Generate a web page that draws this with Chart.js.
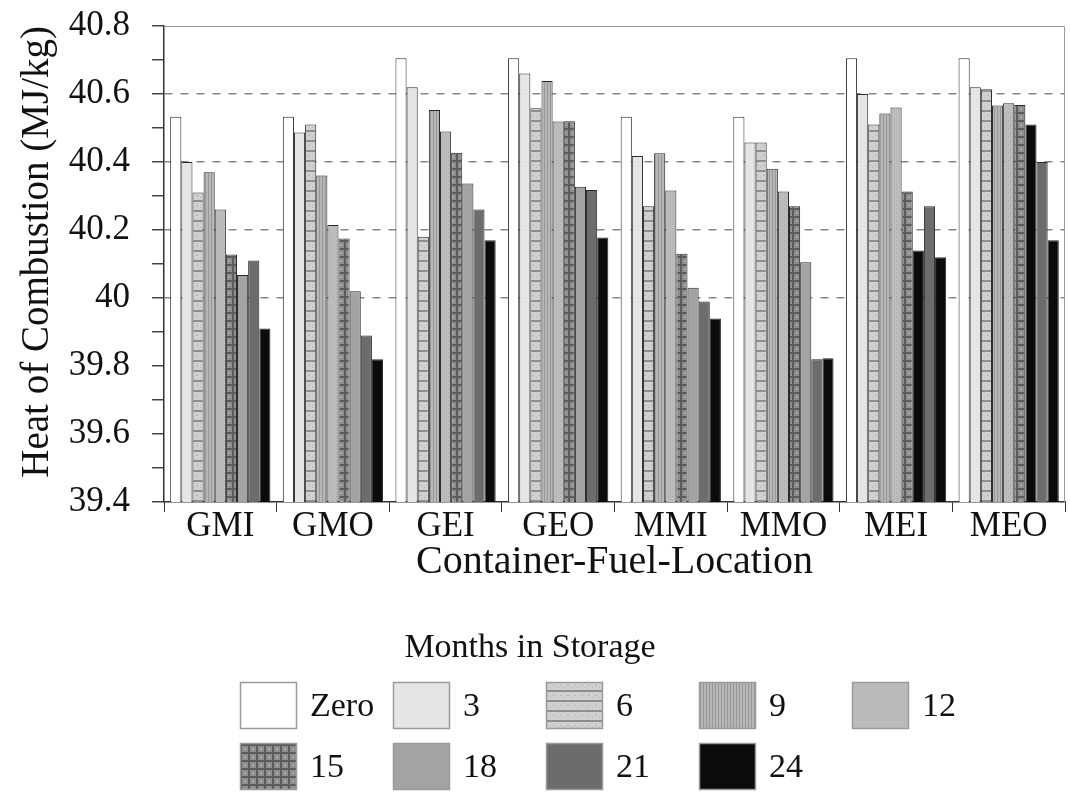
<!DOCTYPE html>
<html>
<head>
<meta charset="utf-8">
<script src="https://cdn.jsdelivr.net/npm/chart.js@4"></script>
<style>
  html, body { margin: 0; padding: 0; background: #fff; }
  #wrap { width: 1070px; height: 792px; }
</style>
</head>
<body>
<div id="wrap"><canvas id="chart"></canvas></div>
<script>
// --- data ---
const categories = ["GMI", "GMO", "GEI", "GEO", "MMI", "MMO", "MEI", "MEO"];
const months = ["Zero", "3", "6", "9", "12", "15", "18", "21", "24"];
const m0 = [40.533, 40.533, 40.705, 40.705, 40.533, 40.533, 40.705, 40.705];
const m3 = [40.40, 40.487, 40.62, 40.66, 40.418, 40.457, 40.60, 40.62];
const m6 = [40.31, 40.51, 40.18, 40.558, 40.27, 40.457, 40.51, 40.614];
const m9 = [40.37, 40.36, 40.553, 40.638, 40.426, 40.38, 40.543, 40.566];
const m12 = [40.26, 40.215, 40.49, 40.519, 40.316, 40.313, 40.56, 40.573];
const m15 = [40.128, 40.175, 40.427, 40.52, 40.13, 40.27, 40.313, 40.568];
const m18 = [40.068, 40.02, 40.337, 40.327, 40.03, 40.105, 40.14, 40.51];
const m21 = [40.11, 39.89, 40.26, 40.318, 39.99, 39.82, 40.27, 40.40];
const m24 = [39.91, 39.82, 40.17, 40.178, 39.94, 39.823, 40.12, 40.17];
const yTicks = [39.4, 39.6, 39.8, 40, 40.2, 40.4, 40.6, 40.8];
const series = [m0, m3, m6, m9, m12, m15, m18, m21, m24];

const FONT = "'Liberation Serif', 'DejaVu Serif', serif";

// grey textures, roughly like the printed hatches
function tile(w, h, draw) {
    const c = document.createElement("canvas");
    c.width = w; c.height = h;
    const g = c.getContext("2d");
    draw(g);
    return document.getElementById("chart").getContext("2d").createPattern(c, "repeat");
}

const fills = [
    "#ffffff",
    tile(4, 4, g => { g.fillStyle = "#e6e6e6"; g.fillRect(0, 0, 4, 4); g.fillStyle = "#d8d8d8"; g.fillRect(1, 2, 1, 1); }),
    tile(7, 10, g => {
        g.fillStyle = "#d0d0d0"; g.fillRect(0, 0, 7, 10);
        g.fillStyle = "#8e8e8e"; g.fillRect(0, 0, 7, 2);
        g.fillStyle = "#b4b4b4"; g.fillRect(0, 5, 2, 1); g.fillRect(4, 7, 1, 1);
    }),
    tile(6, 6, g => {
        g.fillStyle = "#b6b6b6"; g.fillRect(0, 0, 6, 6);
        g.fillStyle = "#989898"; g.fillRect(1, 0, 1, 6); g.fillRect(4, 0, 1, 6);
    }),
    tile(4, 4, g => {
        g.fillStyle = "#bdbdbd"; g.fillRect(0, 0, 4, 4);
        g.fillStyle = "#a8a8a8"; g.fillRect(0, 0, 1, 1); g.fillRect(2, 2, 1, 1);
    }),
    tile(8, 8, g => {
        g.fillStyle = "#8e8e8e"; g.fillRect(0, 0, 8, 8);
        g.fillStyle = "#5c5c5c"; g.fillRect(0, 0, 8, 2); g.fillRect(0, 0, 2, 8);
        g.fillStyle = "#a6a6a6"; g.fillRect(4, 4, 2, 2);
    }),
    "#a3a3a3",
    "#6c6c6c",
    "#0b0b0b"
];

// the 18-month bars of the MEx groups print black in the figure
const fill18 = categories.map(c => c.startsWith("ME") ? "#0b0b0b" : fills[6]);

const datasets = months.map((m, i) => ({
    label: m,
    data: series[i],
    backgroundColor: i === 6 ? fill18 : fills[i],
    borderColor: "#2a2a2a",
    borderWidth: 1,
    borderSkipped: "bottom",
    barPercentage: 1.0,
    categoryPercentage: 0.89
}));

const isGrid = v => [40, 40.2, 40.4, 40.6].some(t => Math.abs(t - v) < 1e-6);
const isLabel = v => yTicks.some(t => Math.abs(t - v) < 1e-6);

// frame on top/right + the custom boxed legend under the axis
const frameAndLegend = {
    id: "frameAndLegend",
    afterDatasetsDraw(chart) {
        const { ctx, chartArea: a } = chart;
        ctx.save();
        ctx.strokeStyle = "#999";
        ctx.lineWidth = 1;
        ctx.beginPath();
        ctx.moveTo(a.left, a.top + 0.5);
        ctx.lineTo(a.right - 0.5, a.top + 0.5);
        ctx.lineTo(a.right - 0.5, a.bottom);
        ctx.stroke();
        ctx.restore();
    },
    afterDraw(chart) {
        const ctx = chart.ctx;
        ctx.save();
        ctx.fillStyle = "#111";
        ctx.font = "34px " + FONT;
        ctx.textAlign = "center";
        ctx.textBaseline = "middle";
        ctx.fillText("Months in Storage", 530, 648);
        ctx.textAlign = "left";
        months.forEach((m, i) => {
            const col = i % 5, row = Math.floor(i / 5);
            const x = 240 + col * 153, y = 682 + row * 61;
            ctx.fillStyle = fills[i];
            ctx.fillRect(x, y, 57, 47);
            ctx.strokeStyle = "#9a9a9a";
            ctx.lineWidth = 1.5;
            ctx.strokeRect(x + 0.5, y + 0.5, 56, 46);
            ctx.fillStyle = "#111";
            ctx.fillText(m, x + 70, y + 25);
        });
        ctx.restore();
    }
};

new Chart(document.getElementById("chart"), {
    type: "bar",
    data: { labels: categories, datasets: datasets },
    options: {
        responsive: true,
        maintainAspectRatio: false,
        animation: false,
        layout: { padding: { left: 14, right: 5, top: 26, bottom: 206 } },
        plugins: {
            legend: { display: false },
            tooltip: { enabled: false }
        },
        scales: {
            x: {
                grid: {
                    offset: true,
                    drawOnChartArea: false,
                    tickLength: 10,
                    tickColor: "#333"
                },
                border: { color: "#333", width: 1.5 },
                ticks: {
                    color: "#111",
                    font: { family: FONT, size: 35 },
                    padding: -6,
                    maxRotation: 0
                },
                title: {
                    display: true,
                    text: "Container-Fuel-Location",
                    color: "#111",
                    font: { family: FONT, size: 40 },
                    padding: { top: -4, bottom: 0 }
                }
            },
            y: {
                min: 39.4,
                max: 40.8,
                afterBuildTicks: scale => {
                    const t = [];
                    for (let k = 394; k <= 408; k++) t.push({ value: k / 10 });
                    scale.ticks = t;
                },
                afterFit: scale => {
                    scale.width = 150;
                    scale.paddingTop = 0;
                    scale.paddingBottom = 0;
                },
                grid: {
                    color: ctx => isGrid(ctx.tick.value) ? "#8a8a8a" : "rgba(0,0,0,0)",
                    lineWidth: 1.5,
                    tickColor: "#444",
                    tickLength: 12
                },
                border: { color: "#333", width: 1.5, dash: [8, 8] },
                ticks: {
                    color: "#111",
                    font: { family: FONT, size: 35 },
                    padding: 22,
                    autoSkip: false,
                    callback: v => isLabel(v) ? String(Math.round(v * 10) / 10) : ""
                },
                title: {
                    display: true,
                    text: "Heat of Combustion (MJ/kg)",
                    align: "end",
                    color: "#111",
                    font: { family: FONT, size: 39 },
                    padding: { top: 0, bottom: 0 }
                }
            }
        }
    },
    plugins: [frameAndLegend]
});
</script>
</body>
</html>
